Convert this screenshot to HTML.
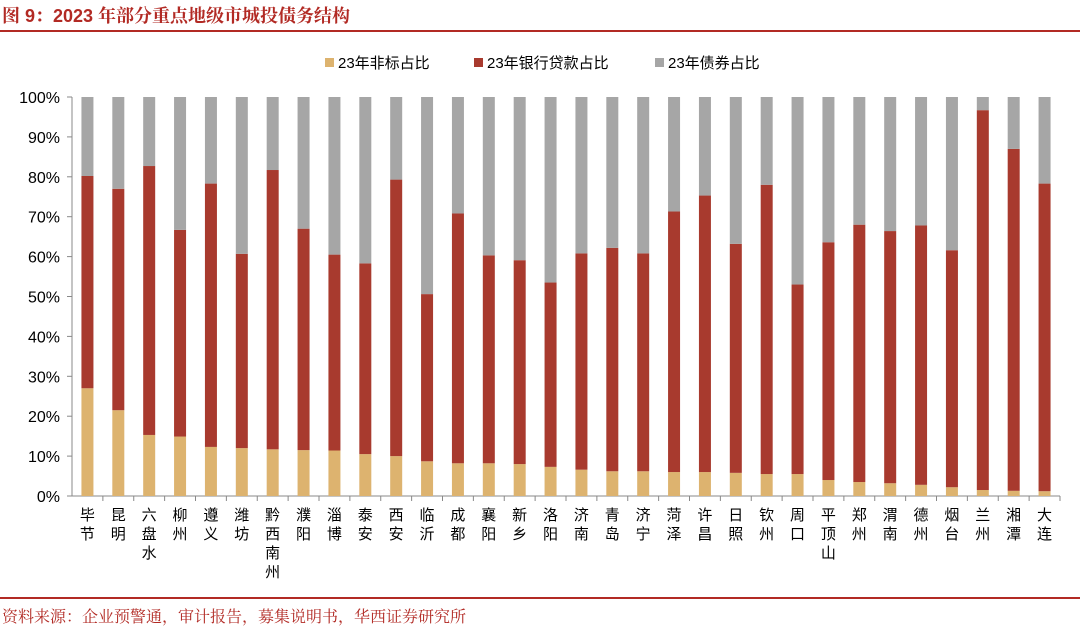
<!DOCTYPE html>
<html><head><meta charset="utf-8">
<style>
body{margin:0;background:#fff;width:1080px;height:627px;overflow:hidden;font-family:"Liberation Sans","Noto Sans CJK SC",sans-serif;}
#title{position:absolute;left:2px;top:2px;font-size:18px;color:#B22A24;font-weight:bold;font-family:"Liberation Sans","Noto Serif CJK SC",serif;}
#topline{position:absolute;left:0;top:30px;width:1080px;height:2px;background:#B22A24;}
#botline{position:absolute;left:0;top:597px;width:1080px;height:2px;background:#B22A24;}
#source{position:absolute;left:2px;top:604px;font-size:16px;color:#B22A24;font-family:"Liberation Sans","Noto Serif CJK SC",serif;}
svg{position:absolute;left:0;top:0;}
</style></head><body>
<div id="title">图 9：2023 年部分重点地级市城投债务结构</div>
<div id="topline"></div>
<svg id="chart" width="1080" height="627"></svg>
<div id="botline"></div>
<div id="source">资料来源：企业预警通，审计报告，募集说明书，华西证券研究所</div>
<script>
const categories=["毕节","昆明","六盘水","柳州","遵义","潍坊","黔西南州","濮阳","淄博","泰安","西安","临沂","成都","襄阳","新乡","洛阳","济南","青岛","济宁","菏泽","许昌","日照","钦州","周口","平顶山","郑州","渭南","德州","烟台","兰州","湘潭","大连"];
const nonStandard=[27,21.5,15.3,14.9,12.3,12,11.7,11.5,11.4,10.5,10,8.7,8.2,8.2,8,7.3,6.6,6.2,6.2,6,6,5.8,5.5,5.5,4,3.5,3.2,2.8,2.2,1.5,1.3,1.2];
const bankLoan=[53.2,55.5,67.4,51.8,66,48.7,70,55.5,49.1,47.8,69.3,41.9,62.6,52.1,51.1,46.2,54.2,56,54.6,65.3,69.3,57.4,72.5,47.5,59.6,64.5,63.2,65,59.4,95.2,85.7,77.1];
const bonds=categories.map((c,i)=>100-nonStandard[i]-bankLoan[i]);
const yTicks=[0,10,20,30,40,50,60,70,80,90,100];
const seriesNames=["23年非标占比","23年银行贷款占比","23年债券占比"];
const colors=["#DDB36F","#A83A2E","#A6A6A6"];
const NS="http://www.w3.org/2000/svg";
const svg=document.getElementById('chart');
const x0=72,x1=1060,yTop=97,yBot=496;
const band=(x1-x0)/categories.length;
const xC=i=>x0+band*(i+0.5);
const y=v=>yBot-(v/100)*(yBot-yTop);
function mk(t,a){const e=document.createElementNS(NS,t);for(const k in a)e.setAttribute(k,a[k]);svg.appendChild(e);return e;}
yTicks.forEach(v=>{
 const t=mk('text',{x:60,y:y(v)+6,'text-anchor':'end','font-size':16,fill:'#000'});
 
 
 t.textContent=v+'%';
 const tk=mk('line',{x1:x0-5,x2:x0,y1:y(v),y2:y(v),stroke:'#888'});
 
 
});
const ax=mk('line',{x1:x0,x2:x0,y1:yTop,y2:yBot,stroke:'#888'});


const xa=mk('line',{x1:x0,x2:x1,y1:yBot,y2:yBot,stroke:'#888'});


const data=[nonStandard,bankLoan,bonds];
const bw=12;
categories.forEach((c,i)=>{
 let acc=0;
 data.forEach((s,k)=>{
  const r=mk('rect',{x:xC(i)-bw/2,y:y(acc+s[i]),width:bw,height:y(acc)-y(acc+s[i]),fill:colors[k]});
  
  
  acc+=s[i];
 });
 const tk=mk('line',{x1:x0+band*(i+1),x2:x0+band*(i+1),y1:yBot,y2:yBot+5,stroke:'#888'});
 
 
 [...c].forEach((ch,j)=>{
  const t=mk('text',{x:xC(i),y:yBot+24+j*19,'text-anchor':'middle','font-size':15,fill:'#000'});
  
  
  t.textContent=ch;
 });
});
const lx=[325,474,655];
seriesNames.forEach((n,k)=>{
 const r=mk('rect',{x:lx[k],y:58,width:9,height:9,fill:colors[k]});
 
 
 const t=mk('text',{x:lx[k]+13,y:68,'font-size':15,fill:'#000'});
 
 
 t.textContent=n;
});
</script>
</body></html>
